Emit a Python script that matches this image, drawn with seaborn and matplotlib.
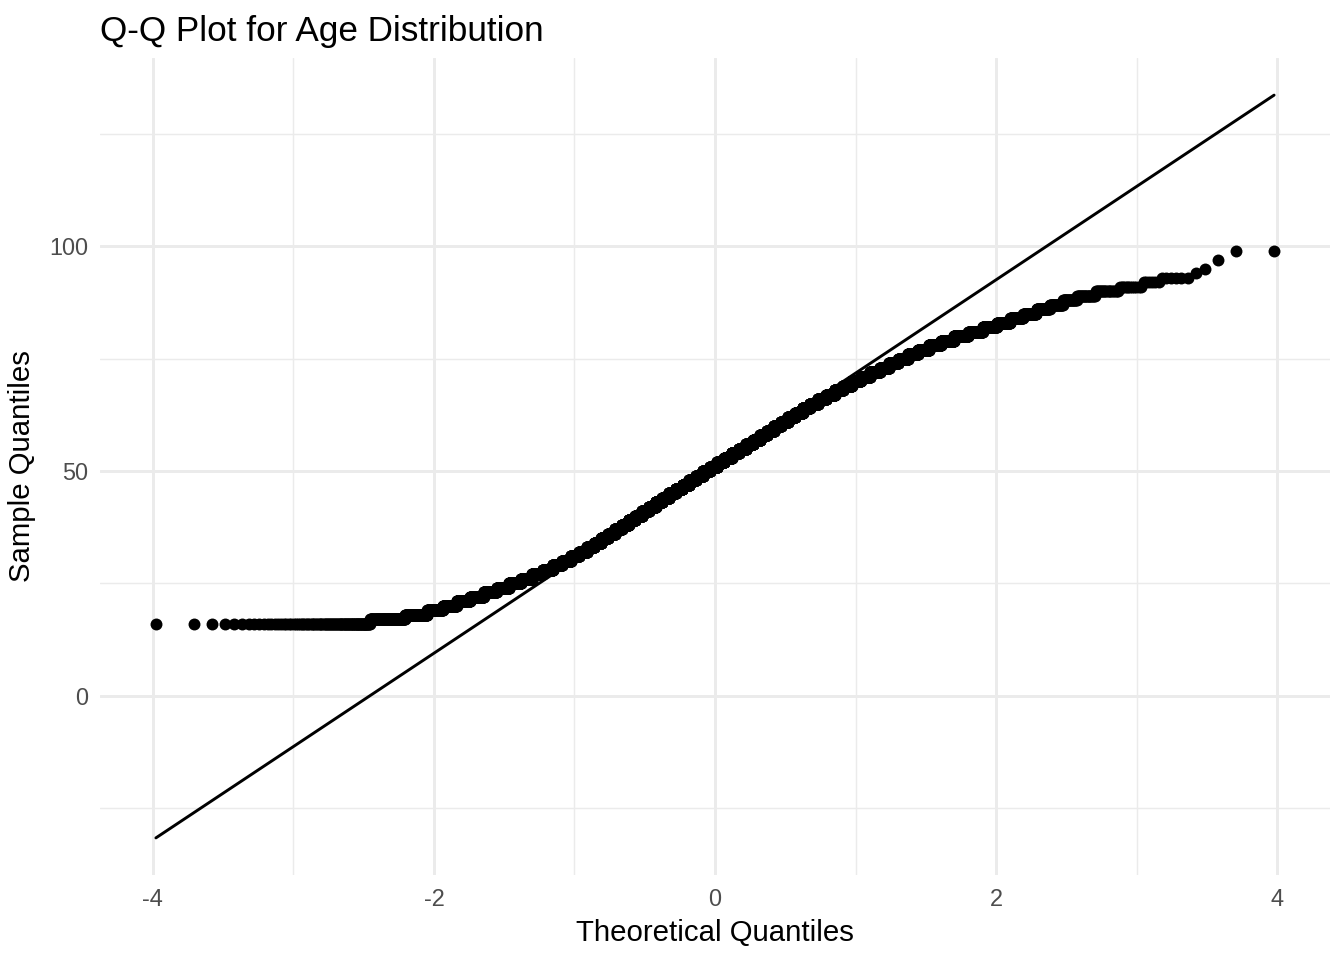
import numpy as np
import pandas as pd
import matplotlib
matplotlib.use("Agg")
import matplotlib.pyplot as plt
import seaborn as sns
from statistics import NormalDist
from matplotlib.ticker import MultipleLocator

# age values and how many people have each age
ages = np.arange(16, 100)
counts = [
    101, 96, 96, 87, 95,                                   # 16-20
    112, 130, 148, 164, 176, 186, 194, 200, 204, 206,      # 21-30
    207, 208, 205, 201, 203, 212, 219, 226, 233, 239,      # 31-40
    244, 249, 253, 259, 262, 267, 269, 276, 282, 288,      # 41-50
    292, 294, 294, 293, 291, 288, 267, 263, 260, 259,      # 51-60
    258, 256, 247, 236, 265, 254, 242, 231, 226, 222,      # 61-70
    218, 213, 180, 170, 161, 153, 148, 144, 134, 127,      # 71-80
    105, 86, 66, 53, 44, 36, 28, 24, 23, 20,               # 81-90
    12, 6, 6, 1, 1, 0, 1, 0, 2,                            # 91-99
]

sample = np.repeat(ages, counts)
n = len(sample)
nd = NormalDist()

# theoretical quantiles, ppoints style (i - 0.5) / n
theo = [nd.inv_cdf((i - 0.5) / n) for i in range(1, n + 1)]
df = pd.DataFrame({"theoretical": theo, "sample": sample})

# reference line through the first and third quartiles
q1, q3 = np.quantile(sample, [0.25, 0.75])
z1, z3 = nd.inv_cdf(0.25), nd.inv_cdf(0.75)
slope = (q3 - q1) / (z3 - z1)
intercept = q1 - slope * z1
line = pd.DataFrame({"x": [df["theoretical"].min(), df["theoretical"].max()]})
line["y"] = intercept + slope * line["x"]

sns.set_style("white")
plt.rcParams["font.family"] = ["Liberation Sans", "DejaVu Sans"]
plt.rcParams["axes.unicode_minus"] = False

fig, ax = plt.subplots(figsize=(7, 5), dpi=192)
fig.subplots_adjust(left=0.0744, right=0.9896, bottom=0.0885, top=0.9396)

sns.scatterplot(data=df, x="theoretical", y="sample", s=20, color="black",
                linewidth=0, ax=ax, zorder=3)
sns.lineplot(data=line, x="x", y="y", color="black", linewidth=1.1, ax=ax, zorder=4)
ax.margins(0.05)

ax.xaxis.set_major_locator(MultipleLocator(2))
ax.xaxis.set_minor_locator(MultipleLocator(1))
ax.yaxis.set_major_locator(MultipleLocator(50))
ax.yaxis.set_minor_locator(MultipleLocator(25))
ax.grid(which="major", color="#EBEBEB", linewidth=1.1)
ax.grid(which="minor", color="#EBEBEB", linewidth=0.55)
ax.set_axisbelow(True)
ax.tick_params(axis="x", which="both", length=0, labelsize=8.8, labelcolor="#4D4D4D", pad=5)
ax.tick_params(axis="y", which="both", length=0, labelsize=8.8, labelcolor="#4D4D4D", pad=4.5)
for s in ax.spines.values():
    s.set_visible(False)

ax.set_xlabel("Theoretical Quantiles", fontsize=11, color="black", labelpad=3)
ax.set_ylabel("Sample Quantiles", fontsize=11, color="black", labelpad=5)
ax.set_title("Q-Q Plot for Age Distribution", loc="left", fontsize=13.2,
             color="black", pad=6.5)

fig.savefig("out.png", dpi=192)
